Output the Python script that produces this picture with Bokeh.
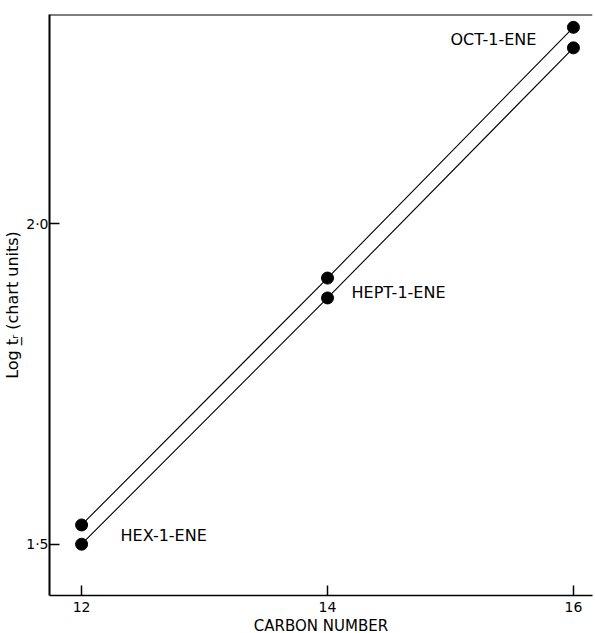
from bokeh.plotting import figure
from bokeh.models import Range1d, FixedTicker, Span
from bokeh.core.properties import value
from bokeh.embed import file_html
from bokeh.resources import INLINE

# ---- data ----
carbon_number = [12, 14, 16]
log_tr_upper = [1.530, 1.915, 2.306]
log_tr_lower = [1.500, 1.884, 2.274]
names = ["HEX-1-ENE", "HEPT-1-ENE", "OCT-1-ENE"]
x_ticks = [12, 14, 16]
x_tick_labels = ["12", "14", "16"]
y_ticks = [1.5, 2.0]
y_tick_labels = ["1·5", "2·0"]

FONT = "DejaVu Sans"

p = figure(width=594, height=637, output_backend="svg", toolbar_location=None,
           x_range=Range1d(11.739, 16.155), y_range=Range1d(1.420, 2.326),
           min_border_left=44, min_border_right=2, min_border_top=14, min_border_bottom=20)
p.outline_line_color = None
p.grid.visible = False
p.background_fill_color = "white"
p.border_fill_color = "white"

# axes
for ax in (p.xaxis[0], p.yaxis[0]):
    ax.major_tick_in = 10
    ax.major_tick_out = 0
    ax.minor_tick_in = 0
    ax.minor_tick_out = 0
    ax.axis_line_color = "black"
    ax.major_tick_line_color = "black"
    ax.major_tick_line_width = 1.5
    ax.major_label_text_font = FONT
    ax.major_label_text_color = "black"
    ax.axis_label_text_font = FONT
    ax.axis_label_text_font_style = "normal"
    ax.axis_label_text_color = "black"

p.xaxis.ticker = FixedTicker(ticks=x_ticks)
p.xaxis.major_label_overrides = {t: l for t, l in zip(x_ticks, x_tick_labels)}
p.xaxis.axis_line_width = 1.6
p.xaxis.major_label_text_font_size = "14px"
p.xaxis.major_label_standoff = 6
p.xaxis.axis_label = "CARBON NUMBER"
p.xaxis.axis_label_text_font_size = "15px"
p.xaxis.axis_label_standoff = 2

p.yaxis.ticker = FixedTicker(ticks=y_ticks)
p.yaxis.major_label_overrides = {t: l for t, l in zip(y_ticks, y_tick_labels)}
p.yaxis.axis_line_width = 2
p.yaxis.major_label_text_font_size = "14px"
p.yaxis.major_label_standoff = 1
p.yaxis.axis_label = "Log t\u0332\u1d63 (chart units)"
p.yaxis.axis_label_text_font_size = "16px"
p.yaxis.axis_label_standoff = 1

# top frame line
p.add_layout(Span(location=2.326, dimension="width", line_color="black", line_width=2))

# lines and points
p.line(carbon_number, log_tr_upper, line_color="black", line_width=1.1)
p.line(carbon_number, log_tr_lower, line_color="black", line_width=1.1)
p.scatter(carbon_number, log_tr_upper, size=12, fill_color="black", line_color="black")
p.scatter(carbon_number, log_tr_lower, size=12, fill_color="black", line_color="black")

# compound labels
p.text(x=[carbon_number[0]], y=[log_tr_lower[0]], text=[names[0]], x_offset=39, y_offset=-9,
       text_font=value(FONT), text_font_size="16px", text_baseline="middle", text_align="left",
       text_color="black")
p.text(x=[carbon_number[1]], y=[log_tr_lower[1]], text=[names[1]], x_offset=24, y_offset=-5,
       text_font=value(FONT), text_font_size="16px", text_baseline="middle", text_align="left",
       text_color="black")
p.text(x=[carbon_number[2]], y=[log_tr_lower[2]], text=[names[2]], x_offset=-37, y_offset=-8,
       text_font=value(FONT), text_font_size="16px", text_baseline="middle", text_align="right",
       text_color="black")

open("out.html", "w").write(file_html(p, INLINE))
